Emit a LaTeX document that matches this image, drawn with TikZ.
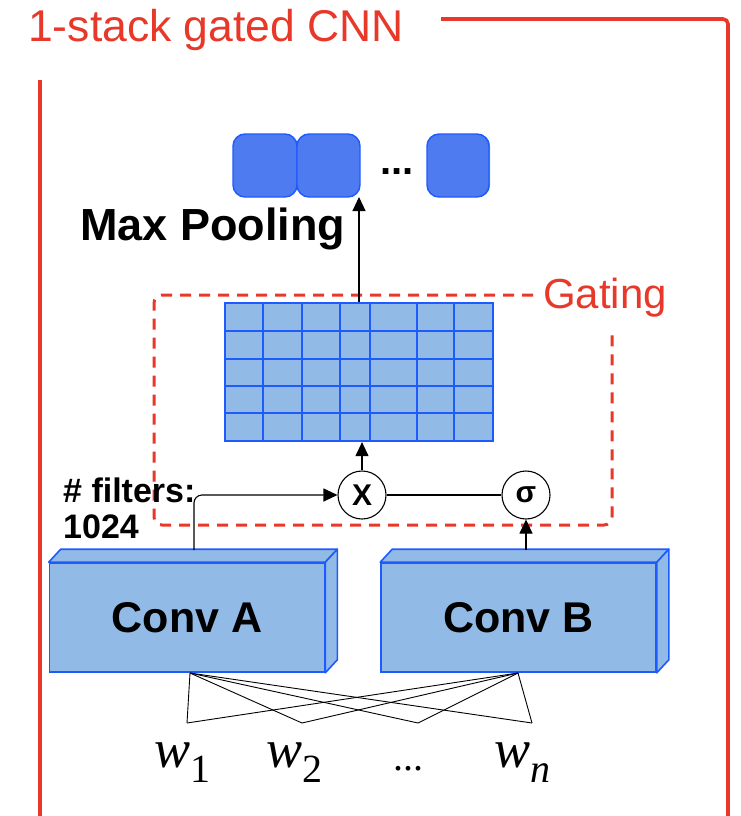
\documentclass[tikz,border=0pt]{standalone}
\usepackage{fontspec}
\setmainfont{Liberation Sans}
\newfontfamily\wordfont{Liberation Serif}
\usetikzlibrary{arrows.meta}

\definecolor{framered}{RGB}{232,56,42}
\definecolor{lightfill}{RGB}{146,186,230}
\definecolor{edgeblue}{RGB}{30,91,255}
\definecolor{poolblue}{RGB}{79,123,240}
\definecolor{poolgreen}{RGB}{92,191,122}

% word symbol with a lowered index
\newcommand{\wsym}[1]{{\wordfont\fontsize{54}{58}\selectfont\itshape w}\raisebox{-15pt}{\wordfont\fontsize{40}{44}\selectfont #1}}

\tikzset{
  conn/.style={draw=black, line width=1.1pt},
  arr/.style={conn, -{Triangle[length=14pt,width=13pt]}},
  convbox/.style={draw=edgeblue, fill=lightfill, line width=1.6pt,
    minimum width=275pt, minimum height=109pt, inner sep=0pt,
    font=\fontsize{43}{48}\selectfont\bfseries},
  opcircle/.style={circle, draw=black, line width=1.1pt, fill=white,
    minimum size=48pt, inner sep=0pt, font=\fontsize{30}{34}\selectfont\bfseries},
  poolcell/.style={draw=edgeblue, fill=poolblue, line width=1.4pt,
    rounded corners=12pt},
  wordlbl/.style={anchor=base, inner sep=0pt},
}

\begin{document}
\begin{tikzpicture}[x=1pt, y=-1pt]
\useasboundingbox (0,0) rectangle (741,816);

% outer frame of the stack
\draw[framered, line width=3.6pt, rounded corners=5pt]
  (441,19) -- (728,19) -- (728,820);
\draw[framered, line width=3.6pt] (40,80) -- (40,820);
\node[anchor=base west, inner sep=0pt, text=framered,
  font=\fontsize{44.5}{50}\selectfont] (title) at (28,42) {1-stack gated CNN};

% pooled outputs
\draw[poolcell] (233,134) rectangle (297,197);
\draw[poolcell] (297,134) rectangle (360,197);
\begin{scope}
  \clip[rounded corners=12pt] (427,134) rectangle (490,197);
  \fill[poolblue] (427,134) rectangle (490,197);
  \fill[poolgreen] (486,130) rectangle (492,200);
\end{scope}
\draw[poolcell] (427,134) rectangle (489,197);
\node[inner sep=0pt] (sq2) at (328.5,165.5) {};
\path (sq2.center) ++(0,31.5) coordinate (sq2s);
\node[anchor=base, inner sep=0pt, font=\fontsize{40}{44}\selectfont\bfseries]
  (pooldots) at (397,174) {...};
\node[anchor=base west, inner sep=0pt, font=\fontsize{45}{50}\selectfont\bfseries]
  (maxpool) at (80,240) {Max Pooling};

% gating region
\draw[framered, line width=3pt, dash pattern=on 11pt off 8pt, rounded corners=8pt]
  (533,295) -- (154,295) -- (154,525) -- (612,525) -- (612,330);
\node[anchor=base west, inner sep=0pt, text=framered,
  font=\fontsize{42}{48}\selectfont] (gating) at (543,308) {Gating};

% feature map grid
\node[draw=edgeblue, fill=lightfill, line width=2.2pt, inner sep=0pt,
  minimum width=268pt, minimum height=138pt] (grid) at (359,372) {};
\foreach \gx in {263,302,340,370,417,454}
  \draw[edgeblue, line width=2.2pt] (\gx,303) -- (\gx,441);
\foreach \gy in {331,359,386,413}
  \draw[edgeblue, line width=2.2pt] (225,\gy) -- (493,\gy);

% gate operators
\node[opcircle] (mul) at (362,495) {X};
\node[opcircle, font=\fontsize{30}{34}\selectfont\bfseries] (sig) at (526,495) {σ};

% convolution blocks (front face as node, top and side faces added)
\node[convbox] (convA) at (187,617.5) {Conv A};
\node[convbox] (convB) at (518.5,617.5) {Conv B};
\foreach \c in {convA,convB} {
  \fill[lightfill, draw=edgeblue, line width=1.6pt, line join=round]
    (\c.north west) -- ++(12,-13) -- ([xshift=12pt,yshift=13pt]\c.north east)
    -- (\c.north east) -- cycle;
  \fill[lightfill, draw=edgeblue, line width=1.6pt, line join=round]
    (\c.north east) -- ++(12,-13) -- ([xshift=12pt,yshift=13pt]\c.south east)
    -- (\c.south east) -- cycle;
}

\node[anchor=base west, inner sep=0pt,
  font=\fontsize{34}{37}\selectfont\bfseries] (filters) at (63,502) {\# filters:};
\node[anchor=base west, inner sep=0pt,
  font=\fontsize{34}{37}\selectfont\bfseries] (nfilt) at (63,538) {1024};

% data flow
\coordinate (aTop) at (194,550);
\coordinate (bTop) at (526,550);
\draw[arr, rounded corners=8pt] (aTop) -- (194,495) -- (mul.west);
\draw[conn] (mul.east) -- (sig.west);
\draw[arr] (bTop) -- (sig.south);
\draw[arr] (mul.north) -- (mul.north |- grid.south);
\draw[arr] (grid.north) -- (grid.north |- sq2s);

% input words
\node[wordlbl] (w1) at (182.5,767) {\wsym{1}};
\node[wordlbl] (w2) at (294.5,767) {\wsym{2}};
\node[wordlbl, font=\wordfont\fontsize{40}{44}\selectfont] (wd) at (408,770) {...};
\node[wordlbl] (wn) at (522.5,767) {\wsym{\itshape n}};

\coordinate (aBot) at (190,673);
\coordinate (bBot) at (518,673);
\coordinate (t1) at (187,723);
\coordinate (t2) at (302,723);
\coordinate (t3) at (418,723);
\coordinate (t4) at (532,723);
\foreach \s in {aBot,bBot}
  \foreach \t in {t1,t2,t3,t4}
    \draw[black, line width=0.9pt] (\s) -- (\t);
\end{tikzpicture}
\end{document}
